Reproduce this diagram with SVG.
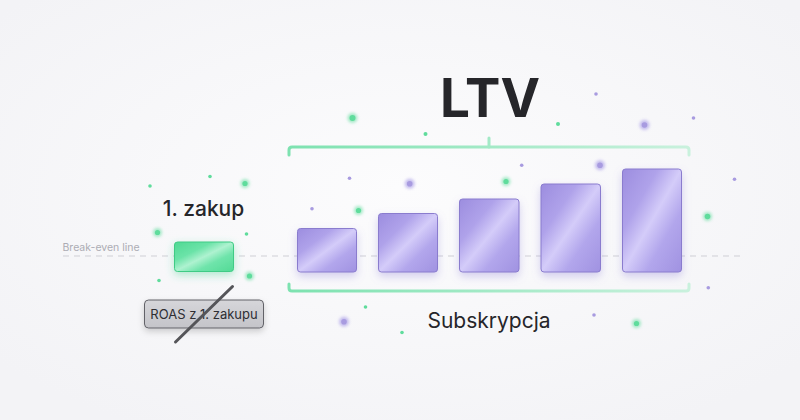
<svg xmlns="http://www.w3.org/2000/svg" width="800" height="420" viewBox="0 0 800 420">
  <defs>
    <radialGradient id="bg" cx="50%" cy="45%" r="65%">
      <stop offset="0" stop-color="#fcfcfd"/>
      <stop offset="1" stop-color="#f3f3f6"/>
    </radialGradient>
    <linearGradient id="barFill" x1="0" y1="0" x2="1" y2="1">
      <stop offset="0" stop-color="#9c8ddf"/>
      <stop offset="0.3" stop-color="#afa2ea"/>
      <stop offset="0.5" stop-color="#d4ccf9"/>
      <stop offset="0.7" stop-color="#b2a6ec"/>
      <stop offset="1" stop-color="#a092e1"/>
    </linearGradient>
    <linearGradient id="greenFill" x1="0" y1="0" x2="1" y2="1">
      <stop offset="0" stop-color="#4fd993"/>
      <stop offset="0.32" stop-color="#6be3a8"/>
      <stop offset="0.5" stop-color="#aef2d0"/>
      <stop offset="0.68" stop-color="#6fe4ab"/>
      <stop offset="1" stop-color="#52da95"/>
    </linearGradient>
    <linearGradient id="roasFill" x1="0" y1="0" x2="0" y2="1">
      <stop offset="0" stop-color="#d6d6da"/>
      <stop offset="1" stop-color="#c4c4c9"/>
    </linearGradient>
    <linearGradient id="bracket" x1="289" y1="0" x2="689" y2="0" gradientUnits="userSpaceOnUse">
      <stop offset="0" stop-color="#7de2b0"/>
      <stop offset="1" stop-color="#c9f1dd"/>
    </linearGradient>
    <filter id="shadow" x="-40%" y="-40%" width="180%" height="190%">
      <feDropShadow dx="0" dy="4" stdDeviation="4" flood-color="#8a7bd6" flood-opacity="0.35"/>
    </filter>
    <filter id="gshadow" x="-40%" y="-40%" width="180%" height="190%">
      <feDropShadow dx="0" dy="3" stdDeviation="4" flood-color="#3fd08a" flood-opacity="0.4"/>
    </filter>
    <filter id="grayShadow" x="-20%" y="-40%" width="140%" height="190%">
      <feDropShadow dx="0" dy="3" stdDeviation="3" flood-color="#000" flood-opacity="0.18"/>
    </filter>
    <filter id="glow" x="-200%" y="-200%" width="500%" height="500%">
      <feGaussianBlur stdDeviation="1.6"/>
    </filter>
    <style>
      .bar { fill: url(#barFill); stroke: #8a7cce; stroke-width: 1; filter: url(#shadow); }
      .g { fill: #5fdc9c; }
      .p { fill: #a89be0; }
      .halo-g { fill: #5fdc9c; opacity: 0.55; filter: url(#glow); }
      .halo-p { fill: #a395e6; opacity: 0.6; filter: url(#glow); }
      .title { font-family: Inter, "Liberation Sans", sans-serif; fill: #26262a; }
      .brk { fill: none; stroke: url(#bracket); stroke-width: 3; stroke-linecap: round; stroke-linejoin: round; }
    </style>
  </defs>

  <rect width="800" height="420" fill="url(#bg)"/>

  <!-- scattered particles -->
  <g id="particles">
    <circle class="halo-g" cx="352.5" cy="118" r="5"/><circle class="g" cx="352.5" cy="118" r="3"/>
    <circle class="g" cx="425.5" cy="134" r="2"/>
    <circle class="g" cx="558" cy="124" r="2"/>
    <circle class="halo-g" cx="245" cy="183.5" r="4.5"/><circle class="g" cx="245" cy="183.5" r="2.6"/>
    <circle class="g" cx="210" cy="176.5" r="1.8"/>
    <circle class="g" cx="150" cy="186" r="1.8"/>
    <circle class="halo-g" cx="506" cy="181.5" r="4.5"/><circle class="g" cx="506" cy="181.5" r="2.6"/>
    <circle class="halo-g" cx="358.5" cy="210.5" r="4.5"/><circle class="g" cx="358.5" cy="210.5" r="2.6"/>
    <circle class="halo-g" cx="157.5" cy="232.5" r="4.5"/><circle class="g" cx="157.5" cy="232.5" r="2.6"/>
    <circle class="g" cx="246.5" cy="234" r="1.8"/>
    <circle class="halo-g" cx="249.5" cy="276" r="4.5"/><circle class="g" cx="249.5" cy="276" r="2.6"/>
    <circle class="g" cx="159" cy="280.5" r="1.8"/>
    <circle class="halo-g" cx="707.5" cy="216.5" r="4.5"/><circle class="g" cx="707.5" cy="216.5" r="2.8"/>
    <circle class="g" cx="365.5" cy="307" r="1.8"/>
    <circle class="g" cx="402" cy="332.5" r="1.8"/>
    <circle class="halo-g" cx="636.5" cy="323.5" r="4.5"/><circle class="g" cx="636.5" cy="323.5" r="2.6"/>

    <circle class="p" cx="596" cy="94" r="1.8"/>
    <circle class="halo-p" cx="644.5" cy="125" r="5"/><circle class="p" cx="644.5" cy="125" r="2.8"/>
    <circle class="p" cx="693.5" cy="118" r="1.8"/>
    <circle class="halo-p" cx="600" cy="165.3" r="5"/><circle class="p" cx="600" cy="165.3" r="2.8"/>
    <circle class="p" cx="734.5" cy="179.3" r="1.8"/>
    <circle class="p" cx="349.5" cy="178.3" r="1.8"/>
    <circle class="halo-p" cx="409.7" cy="183.7" r="5"/><circle class="p" cx="409.7" cy="183.7" r="2.8"/>
    <circle class="p" cx="312" cy="208.8" r="1.8"/>
    <circle class="p" cx="521.7" cy="165.3" r="1.8"/>
    <circle class="p" cx="708.3" cy="287.7" r="1.8"/>
    <circle class="halo-p" cx="344" cy="321.7" r="5"/><circle class="p" cx="344" cy="321.7" r="2.8"/>
    <circle class="p" cx="594" cy="315" r="1.8"/>
  </g>

  <!-- break-even reference line -->
  <g id="break-even">
    <line x1="63" y1="256" x2="740" y2="256" stroke="#cfcfd5" stroke-width="1" stroke-dasharray="6 5"/>
    <text x="62.5" y="251" font-family="Inter, 'Liberation Sans', sans-serif" font-size="10.5" fill="#acacb4">Break-even line</text>
  </g>

  <!-- brackets -->
  <g id="connectors">
    <path class="brk" d="M289,155 V150 Q289,147 292,147 H686 Q689,147 689,150 V155"/>
    <path class="brk" d="M489,147 V138"/>
    <path class="brk" d="M289,284 V288 Q289,291 292,291 H686 Q689,291 689,288 V284"/>
  </g>

  <g id="ltv-title">
    <text class="title" x="490" y="117" font-size="53" font-weight="700" text-anchor="middle">LTV</text>
  </g>

  <g id="first-purchase">
    <text class="title" x="203.5" y="216" font-size="21" font-weight="500" text-anchor="middle">1. zakup</text>
    <rect x="174.5" y="242" width="59" height="29.5" rx="3" fill="url(#greenFill)" stroke="#3fcb85" stroke-width="1" filter="url(#gshadow)"/>
  </g>

  <g id="subscription">
    <rect class="bar" x="297.5" y="228.5" width="59" height="43.5" rx="3"/>
    <rect class="bar" x="378.5" y="213.5" width="59" height="58.5" rx="3"/>
    <rect class="bar" x="459.5" y="199" width="59.5" height="73" rx="3"/>
    <rect class="bar" x="541" y="184" width="59.5" height="88" rx="3"/>
    <rect class="bar" x="622.5" y="169" width="59" height="103" rx="3"/>
    <text class="title" x="489" y="328" font-size="21" text-anchor="middle">Subskrypcja</text>
  </g>

  <g id="roas">
    <rect x="144.5" y="300" width="119" height="28" rx="4" fill="url(#roasFill)" stroke="#626268" stroke-width="1" filter="url(#grayShadow)"/>
    <text x="204" y="319" font-family="Inter, 'Liberation Sans', sans-serif" font-size="13" fill="#2e2e33" text-anchor="middle">ROAS z 1. zakupu</text>
    <line x1="232.5" y1="286.5" x2="175.5" y2="342" stroke="#555559" stroke-width="3" stroke-linecap="round"/>
  </g>
</svg>
